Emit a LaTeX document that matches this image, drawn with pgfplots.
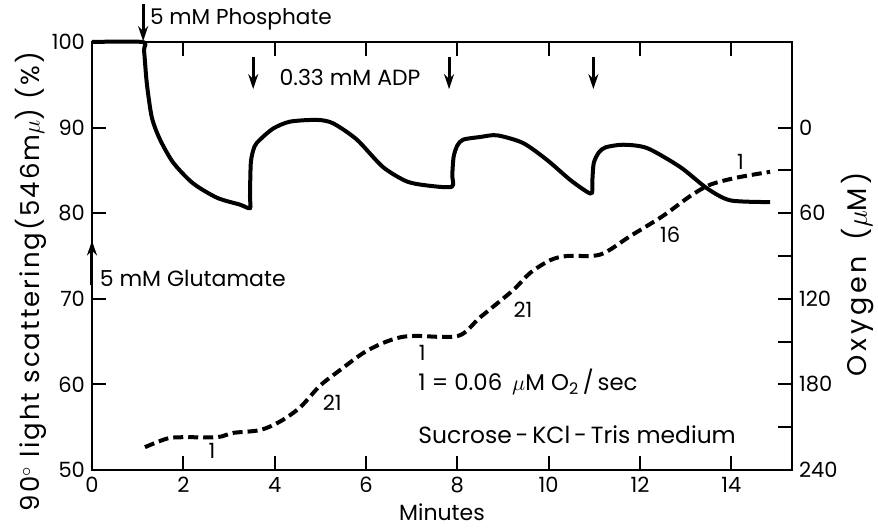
\documentclass[border=0pt]{standalone}
\usepackage{fontspec}
\setmainfont{Poppins}
\newfontfamily\widefont[LetterSpace=8]{Poppins}
\newfontfamily\oxyfont[LetterSpace=14]{Poppins}
\usepackage{pgfplots}
\pgfplotsset{compat=1.18}
\usetikzlibrary{arrows.meta}
\begin{document}
\begin{tikzpicture}
\useasboundingbox (-46pt,-30.5pt) rectangle (393pt,235pt);
\begin{axis}[at={(0,0)}, anchor=south west, scale only axis,
  width=350pt, height=214pt,
  xmin=0, xmax=15.33, ymin=50, ymax=100,
  xtick={0,2,...,14}, ytick={50,60,...,100},
  ytick pos=left, xtick pos=both,
  tick align=inside, major tick length=7pt,
  axis line style={line width=1pt},
  tick style={line width=1pt,black},
  /pgf/number format/assume math mode=true,
  ticklabel style={font=\fontsize{10.5}{12}\selectfont},
  clip=false,
  xlabel={Minutes},
  every axis x label/.style={at={(axis description cs:0.5,-0.098)},anchor=center,font=\fontsize{11}{13}\selectfont},
  ylabel={90$^\circ$ light scattering(546m$\mu$) (\%)},
  every axis y label/.style={at={(axis description cs:-0.087,0.44)},rotate=90,anchor=center,font=\widefont\fontsize{13}{15}\selectfont},
]
\addplot[line width=2pt, black, smooth, tension=0.45] coordinates {
 (0,100) (1.1,100) (1.14,99) (1.2,95.2) (1.31,91.2) (1.49,88.6) (1.78,85.9) (2.21,83.5)
 (2.74,81.8) (3.24,81.0) (3.46,80.6) (3.46,82) (3.48,86) (3.56,87.8) (3.68,88.6) (3.97,89.9)
 (4.34,90.7) (4.93,90.9) (5.28,90.5) (5.8,88.6) (6.37,85.4) (6.9,83.7) (7.4,83.2) (7.88,83.1)
 (7.89,84.5) (7.92,86.6) (8.0,87.9) (8.13,88.6) (8.5,88.9) (8.87,89.1) (9.44,88.2) (9.97,86.2)
 (10.47,83.9) (10.84,82.5) (10.95,82.4) (10.96,84) (10.99,85.9) (11.1,87.1) (11.25,87.7) (11.64,88)
 (12.16,87.6) (12.88,85.4) (13.47,82.9) (13.98,81.5) (14.85,81.3)
};
% arrows and annotations
\draw[line width=1.5pt,-{Stealth[length=7.5pt,width=5pt]}] (axis cs:1.12,104.4) -- (axis cs:1.12,100.1);
\node[anchor=west,font=\fontsize{10.8}{12}\selectfont,inner sep=1pt] at (axis cs:1.22,102.6) {5 mM Phosphate};
\draw[line width=1.5pt,-{Stealth[length=7.5pt,width=5pt]}] (axis cs:3.53,98.3) -- (axis cs:3.53,94.5);
\draw[line width=1.5pt,-{Stealth[length=7.5pt,width=5pt]}] (axis cs:7.82,98.3) -- (axis cs:7.82,94.5);
\draw[line width=1.5pt,-{Stealth[length=7.5pt,width=5pt]}] (axis cs:10.98,98.3) -- (axis cs:10.98,94.5);
\node[font=\fontsize{11}{12}\selectfont] at (axis cs:5.65,95.9) {0.33 mM ADP};
\draw[line width=1.5pt,-{Stealth[length=7.5pt,width=5pt]}] (axis cs:0,71.6) -- (axis cs:0,76.8);
\node[anchor=west,font=\fontsize{11}{12}\selectfont,inner sep=1pt] at (axis cs:0.12,72.4) {5 mM Glutamate};
\node[font=\fontsize{10.5}{11}\selectfont] at (axis cs:2.63,52.2) {1};
\node[font=\fontsize{10.5}{11}\selectfont] at (axis cs:5.26,57.8) {21};
\node[font=\fontsize{10.5}{11}\selectfont] at (axis cs:7.23,63.7) {1};
\node[font=\fontsize{10.5}{11}\selectfont] at (axis cs:9.44,68.7) {21};
\node[font=\fontsize{10.5}{11}\selectfont] at (axis cs:12.66,77.5) {16};
\node[font=\fontsize{10.5}{11}\selectfont] at (axis cs:14.2,86) {1};
\node[anchor=west,font=\fontsize{11.4}{12}\selectfont,inner sep=0pt] at (axis cs:7.14,60.3) {1 = 0.06 \,$\mu$M O\textsubscript{2}\,/\,sec};
\node[anchor=west,font=\fontsize{11.7}{13}\selectfont,inner sep=0pt] at (axis cs:7.14,54.1) {Sucrose\,-\,KCl\,-\,Tris medium};
\node[rotate=90,anchor=center,font=\oxyfont\fontsize{13.5}{15}\selectfont] at (axis description cs:1.094,0.458) {Oxygen \,($\mu$M)};
\end{axis}
\begin{axis}[at={(0,0)}, anchor=south west, scale only axis,
  width=350pt, height=214pt,
  xmin=0, xmax=15.33, ymin=-60, ymax=240, y dir=reverse,
  axis x line=none, axis y line*=right,
  ytick={0,60,...,240}, minor ytick={30,90,150,210},
  ytick align=inside, major tick length=7pt, minor tick length=7pt,
  axis line style={line width=1pt,-},
  tick style={line width=1pt,black},
  /pgf/number format/assume math mode=true,
  ticklabel style={font=\fontsize{10.5}{12}\selectfont},
]
\addplot[line width=2pt, black, dash pattern=on 5pt off 2.5pt, smooth, tension=0.5] coordinates {
 (1.16,224) (1.64,218) (2.0,217) (2.74,217) (3.09,214) (3.68,212) (4.12,206) (4.56,196)
 (4.99,181) (5.43,170) (5.94,158) (6.37,151) (6.75,147) (7.1,146) (8.02,146)
 (8.5,133) (9.22,114) (9.59,102) (10.03,93) (10.4,90) (11.13,89) (11.79,76)
 (12.5,62) (13.1,48) (13.54,40) (14.13,35) (14.85,31)
};
\end{axis}
\end{tikzpicture}
\end{document}
